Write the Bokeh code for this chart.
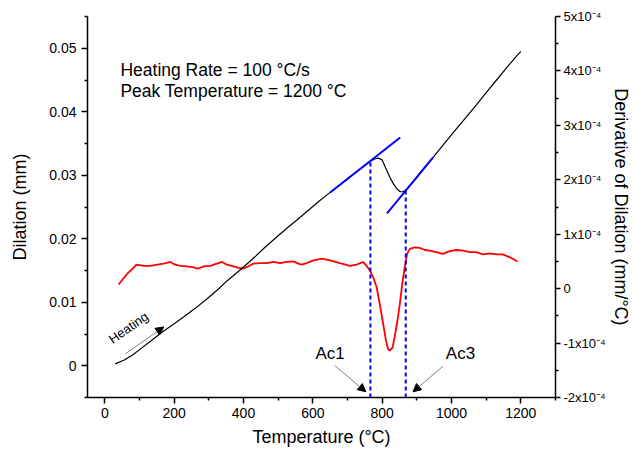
from bokeh.plotting import figure
from bokeh.models import (Range1d, LinearAxis, FixedTicker, CustomJSTickFormatter,
                          Label, Arrow, NormalHead)
from bokeh.embed import file_html
from bokeh.resources import INLINE

# ---------------- data ----------------
# Dilation curve (black): temperature (°C) vs dilation (mm)
temp_dil = [30, 56, 80, 104, 140, 171, 200, 228, 260, 296, 330, 353, 380, 401, 430,
            459, 490, 526, 555, 583, 615, 650, 680, 710, 740, 766, 780, 790, 800, 813,
            823, 833, 842, 852, 860, 869, 880, 900, 920, 948, 975, 1005, 1040, 1072,
            1100, 1130, 1160, 1185, 1200]
dilation = [0.0003, 0.0009, 0.0017, 0.0027, 0.0042, 0.0055, 0.0066, 0.0077, 0.0090,
            0.0106, 0.0122, 0.0134, 0.0146, 0.0156, 0.0170, 0.0185, 0.0200, 0.0217,
            0.0230, 0.0243, 0.0258, 0.0273, 0.0286, 0.0299, 0.0311, 0.0322, 0.0326,
            0.0327, 0.0324, 0.0308, 0.0296, 0.0286, 0.0279, 0.0274, 0.0274, 0.0277,
            0.0284, 0.0297, 0.0311, 0.0329, 0.0347, 0.0367, 0.0390, 0.0411, 0.0430,
            0.0450, 0.0470, 0.0486, 0.0495]

# Derivative curve (red): temperature (°C) vs derivative (mm/°C)
temp_der = [40, 50, 64, 79, 91, 112, 131, 151, 170, 189, 203, 218, 237, 256, 270, 285,
            304, 323, 338, 352, 371, 386, 400, 414, 429, 448, 467, 487, 506, 525, 544,
            558, 568, 582, 602, 626, 650, 678, 707, 726, 745, 755, 765, 774, 784, 793,
            803, 811, 817, 822, 830, 836, 844, 851, 858, 865, 872, 880, 894, 908, 923,
            937, 956, 975, 995, 1014, 1033, 1052, 1072, 1091, 1110, 1129, 1148, 1167,
            1182, 1190]
derivative = [0.075e-4, 0.16e-4, 0.27e-4, 0.36e-4, 0.44e-4, 0.42e-4, 0.42e-4, 0.44e-4,
              0.46e-4, 0.49e-4, 0.44e-4, 0.42e-4, 0.41e-4, 0.39e-4, 0.37e-4, 0.41e-4,
              0.42e-4, 0.46e-4, 0.49e-4, 0.44e-4, 0.41e-4, 0.38e-4, 0.37e-4, 0.41e-4,
              0.46e-4, 0.47e-4, 0.47e-4, 0.49e-4, 0.47e-4, 0.49e-4, 0.50e-4, 0.46e-4,
              0.44e-4, 0.47e-4, 0.52e-4, 0.55e-4, 0.52e-4, 0.47e-4, 0.42e-4, 0.44e-4,
              0.49e-4, 0.42e-4, 0.33e-4, 0.21e-4, 0.03e-4, -0.28e-4, -0.65e-4, -0.95e-4,
              -1.11e-4, -1.14e-4, -1.08e-4, -0.89e-4, -0.59e-4, -0.28e-4, 0.09e-4,
              0.39e-4, 0.64e-4, 0.73e-4, 0.76e-4, 0.75e-4, 0.71e-4, 0.70e-4, 0.67e-4,
              0.64e-4, 0.69e-4, 0.71e-4, 0.70e-4, 0.67e-4, 0.67e-4, 0.63e-4, 0.65e-4,
              0.63e-4, 0.63e-4, 0.58e-4, 0.53e-4, 0.50e-4]

# Tangent lines (blue)
tangent1_temp = [650, 852]
tangent1_dil = [0.02728, 0.03595]
tangent2_temp = [814, 947]
tangent2_dil = [0.02398, 0.03280]

# Transformation temperatures and the dilation where they touch the tangents
ac_temps = [766, 868]
ac_dil = [0.0323, 0.0276]
ac_names = ["Ac1", "Ac3"]

# Axis ticks
x_ticks = [0, 200, 400, 600, 800, 1000, 1200]
x_minor = [-100, 100, 300, 500, 700, 900, 1100, 1300]
left_ticks = [0, 0.01, 0.02, 0.03, 0.04, 0.05]
left_minor = [-0.005, 0.005, 0.015, 0.025, 0.035, 0.045, 0.055]
right_ticks = [-2e-4, -1e-4, 0, 1e-4, 2e-4, 3e-4, 4e-4, 5e-4]
right_minor = [-1.5e-4, -0.5e-4, 0.5e-4, 1.5e-4, 2.5e-4, 3.5e-4, 4.5e-4]

FONT = "Liberation Sans"

p = figure(width=633, height=454, output_backend="svg", toolbar_location=None,
           x_range=Range1d(-50, 1300), y_range=Range1d(-0.005, 0.055),
           min_border_left=87, min_border_right=78, min_border_top=16,
           min_border_bottom=57)
p.extra_y_ranges = {"deriv": Range1d(-2e-4, 5e-4)}
p.grid.visible = False
p.outline_line_color = None
p.background_fill_color = "white"
p.border_fill_color = "white"


def style_axis(ax, tick_size="14px"):
    ax.axis_line_color = "black"
    ax.axis_line_width = 1.5
    ax.major_tick_line_color = "black"
    ax.major_tick_line_width = 1.5
    ax.minor_tick_line_color = "black"
    ax.minor_tick_line_width = 1.5
    ax.major_tick_in = 0
    ax.major_tick_out = 6
    ax.minor_tick_in = 0
    ax.minor_tick_out = 3
    ax.major_label_text_font = FONT
    ax.major_label_text_font_size = tick_size
    ax.major_label_text_color = "black"
    ax.axis_label_text_font = FONT
    ax.axis_label_text_font_size = "18px"
    ax.axis_label_text_font_style = "normal"
    ax.axis_label_text_color = "black"


xa = p.xaxis[0]
xa.ticker = FixedTicker(ticks=x_ticks, minor_ticks=x_minor)
xa.axis_label = "Temperature (°C)"
style_axis(xa)
xa.major_label_standoff = 4
xa.axis_label_standoff = 6

ya = p.yaxis[0]
ya.ticker = FixedTicker(ticks=left_ticks, minor_ticks=left_minor)
ya.formatter = CustomJSTickFormatter(code="return Math.abs(tick) < 1e-9 ? '0' : tick.toFixed(2);")
ya.axis_label = "Dilation (mm)"
style_axis(ya)
ya.major_label_standoff = 5
ya.axis_label_standoff = 16

ra = LinearAxis(y_range_name="deriv",
                ticker=FixedTicker(ticks=right_ticks, minor_ticks=right_minor),
                formatter=CustomJSTickFormatter(code="""
                    const m = Math.round(tick * 1e4);
                    return m === 0 ? '0' : m + 'x10\u207B\u2074';
                """),
                axis_label="Derivative of Dilation (mm/°C)")
style_axis(ra, "13px")
ra.major_tick_out = 5
ra.major_label_standoff = 3
ra.axis_label_standoff = 2
p.add_layout(ra, "right")

# curves
p.line(temp_der, derivative, y_range_name="deriv", line_color="#ff0000", line_width=1.8)
p.line(temp_dil, dilation, line_color="black", line_width=1.2)
p.line(tangent1_temp, tangent1_dil, line_color="#0000ff", line_width=2)
p.line(tangent2_temp, tangent2_dil, line_color="#0000ff", line_width=2)
p.segment(x0=ac_temps, y0=[-0.005] * len(ac_temps), x1=ac_temps, y1=ac_dil,
          line_color="#0000ff", line_width=2, line_dash="4 3")

# texts
p.add_layout(Label(x=45, y=0.0465, text="Heating Rate = 100 °C/s", text_font=FONT,
                   text_font_size="17.5px", text_baseline="middle", text_color="black"))
p.add_layout(Label(x=45, y=0.0433, text="Peak Temperature = 1200 °C", text_font=FONT,
                   text_font_size="17.5px", text_baseline="middle", text_color="black"))
p.add_layout(Label(x=68, y=0.0060, text="Heating", text_font=FONT, text_font_size="13px",
                   angle=35, angle_units="deg", text_align="center",
                   text_baseline="middle", text_color="black"))
p.add_layout(Label(x=650, y=0.0019, text=ac_names[0], text_font=FONT, text_font_size="17px",
                   text_align="center", text_baseline="middle", text_color="black"))
p.add_layout(Label(x=1026, y=0.0019, text=ac_names[1], text_font=FONT, text_font_size="17px",
                   text_align="center", text_baseline="middle", text_color="black"))

# arrows
def head():
    return NormalHead(size=8, fill_color="black", line_color="black")

p.add_layout(Arrow(end=head(), x_start=60, y_start=0.0019, x_end=170, y_end=0.0061,
                   line_color="gray", line_width=1))
p.add_layout(Arrow(end=head(), x_start=664, y_start=0.0000, x_end=753, y_end=-0.0041,
                   line_color="gray", line_width=1))
p.add_layout(Arrow(end=head(), x_start=975, y_start=-0.0001, x_end=889, y_end=-0.0041,
                   line_color="gray", line_width=1))

open("out.html", "w").write(file_html(p, INLINE))
